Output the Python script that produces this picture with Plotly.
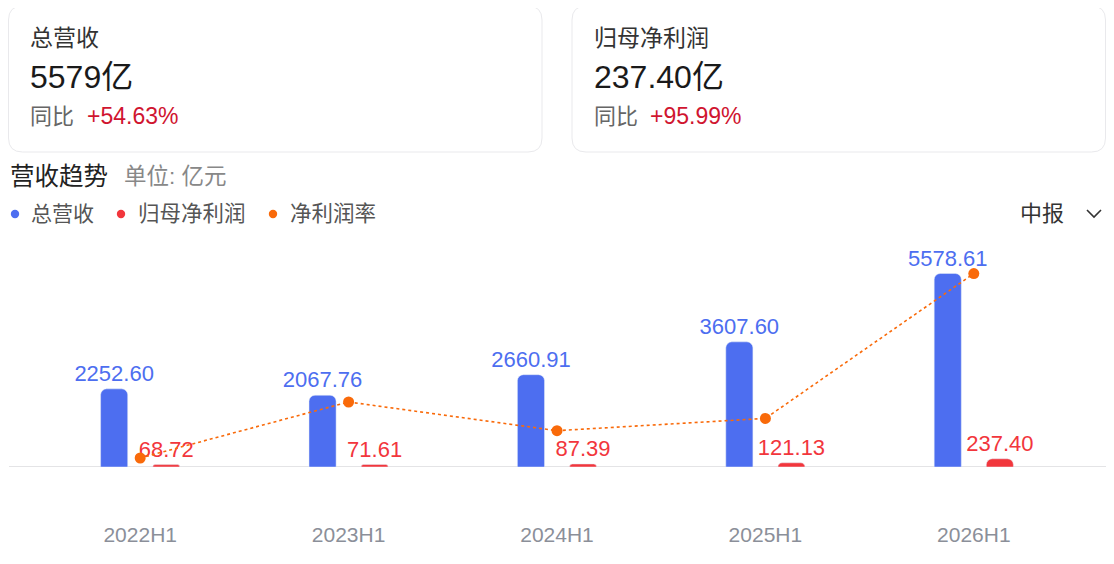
import plotly.graph_objects as go

# ---- data ----
periods = ["2022H1", "2023H1", "2024H1", "2025H1", "2026H1"]
revenue = [2252.60, 2067.76, 2660.91, 3607.60, 5578.61]
net_profit = [68.72, 71.61, 87.39, 121.13, 237.40]
net_margin = [3.05, 3.46, 3.25, 3.34, 4.40]

card_titles = ["总营收", "归母净利润"]
card_values = ["5579亿", "237.40亿"]
card_yoy = ["+54.63%", "+95.99%"]
legend_names = ["总营收", "归母净利润", "净利润率"]

BLUE = "#4d6ef0"
RED = "#f2363c"
ORANGE = "#f96a0a"
CARD_RED = "#d01530"
OX, OY = 8, 8          # page body offset
W, H = 1106, 556       # figure size
FONT = "Arial, 'Liberation Sans', 'Noto Sans CJK SC', sans-serif"


def px(x):
    return (x - OX) / W


def py(y):
    return 1 - (y - OY) / H


fig = go.Figure()

fig.add_trace(go.Bar(
    x=periods, y=revenue, name=legend_names[0], marker_color=BLUE,
    text=[f"{v:.2f}" for v in revenue], textposition="outside",
    textfont=dict(color=BLUE, size=22, family=FONT), cliponaxis=False,
    constraintext="none", showlegend=False,
))
fig.add_trace(go.Bar(
    x=periods, y=net_profit, name=legend_names[1], marker_color=RED,
    text=[f"{v:.2f}" for v in net_profit], textposition="outside",
    textfont=dict(color=RED, size=22, family=FONT), cliponaxis=False,
    constraintext="none", showlegend=False,
))
fig.add_trace(go.Scatter(
    x=periods, y=net_margin, name=legend_names[2], yaxis="y2",
    mode="lines+markers", line=dict(color=ORANGE, width=1.6, dash="dot"),
    marker=dict(color=ORANGE, size=11), cliponaxis=False, showlegend=False,
))

# geometry of plot area (reference pixel coords)
x0p, x1p = 36, 1078
base_py, top_py = 467, 250
scale = 193.5 / 5578.61  # px per 亿
ymax = (base_py - top_py) / scale
m_scale = 136.6  # px per %
m_base = 3.05 - (base_py - 458) / m_scale
m_top = m_base + (base_py - top_py) / m_scale

fig.update_layout(
    width=W, height=H, margin=dict(l=0, r=0, t=0, b=0),
    paper_bgcolor="white", plot_bgcolor="white",
    barmode="group", bargap=0.5, bargroupgap=0.48, barcornerradius=6,
    font=dict(family=FONT),
    xaxis=dict(domain=[px(x0p), px(x1p)], showgrid=False, showline=False,
               zeroline=False, ticks="", tickfont=dict(size=21, color="#8b8f99", family=FONT),
               ticklabelstandoff=53, fixedrange=True),
    yaxis=dict(domain=[py(base_py), py(top_py)], range=[0, ymax], visible=False,
               showgrid=False, zeroline=False),
    yaxis2=dict(domain=[py(base_py), py(top_py)], range=[m_base, m_top], overlaying="y",
                visible=False, showgrid=False, zeroline=False),
    showlegend=False,
)

shapes = []


def rounded_rect(xa, ya, xb, yb, r):
    pts = [
        f"M {px(xa + r)},{py(ya)}",
        f"L {px(xb - r)},{py(ya)}",
        f"Q {px(xb)},{py(ya)} {px(xb)},{py(ya + r)}",
        f"L {px(xb)},{py(yb - r)}",
        f"Q {px(xb)},{py(yb)} {px(xb - r)},{py(yb)}",
        f"L {px(xa + r)},{py(yb)}",
        f"Q {px(xa)},{py(yb)} {px(xa)},{py(yb - r)}",
        f"L {px(xa)},{py(ya + r)}",
        f"Q {px(xa)},{py(ya)} {px(xa + r)},{py(ya)}",
        "Z",
    ]
    return dict(type="path", xref="paper", yref="paper", path=" ".join(pts),
                line=dict(color="#e9e9ec", width=1), fillcolor="white", layer="below")


shapes.append(rounded_rect(8.5, 6, 542, 152, 14))
shapes.append(rounded_rect(572, 6, 1105.5, 152, 14))
# baseline
shapes.append(dict(type="line", xref="paper", yref="y", x0=px(9), x1=px(1106), y0=0, y1=0,
                   line=dict(color="#e4e4e6", width=2), layer="below"))
# legend dots
for cx, col in [(15, BLUE), (121, RED), (273, ORANGE)]:
    shapes.append(dict(type="circle", xref="paper", yref="paper",
                       x0=px(cx - 4.2), x1=px(cx + 4.2), y0=py(214 + 4.2), y1=py(214 - 4.2),
                       fillcolor=col, line=dict(width=0)))
# dropdown chevron
shapes.append(dict(type="path", xref="paper", yref="paper",
                   path=f"M {px(1087)},{py(210)} L {px(1094)},{py(217)} L {px(1101)},{py(210)}",
                   line=dict(color="#333333", width=1.6)))
fig.update_layout(shapes=shapes)

ann = []


def text(x, y, s, size, color, anchor="left"):
    ann.append(dict(x=px(x), y=py(y), xref="paper", yref="paper", text=s, showarrow=False,
                    xanchor=anchor, yanchor="middle", font=dict(size=size, color=color, family=FONT)))


card_x = [30, 594]
yoy_x = [87, 650]
for i in range(2):
    text(card_x[i] - 2, 38, card_titles[i], 23, "#333333")
    text(card_x[i] - 2, 77, card_values[i], 32, "#1a1a1a")
    text(card_x[i] - 2, 116, "同比", 22, "#666666")
    text(yoy_x[i] - 2, 116, card_yoy[i], 23, CARD_RED)

text(8, 176, "营收趋势", 24.5, "#222222")
text(122, 176, "单位: 亿元", 22.5, "#888888")
text(29, 214, legend_names[0], 21, "#555555")
text(136, 214, legend_names[1], 21.5, "#555555")
text(288, 214, legend_names[2], 21.5, "#555555")
text(1018, 214, "中报", 22, "#333333")
fig.update_layout(annotations=ann)

fig.write_html("out.html")
